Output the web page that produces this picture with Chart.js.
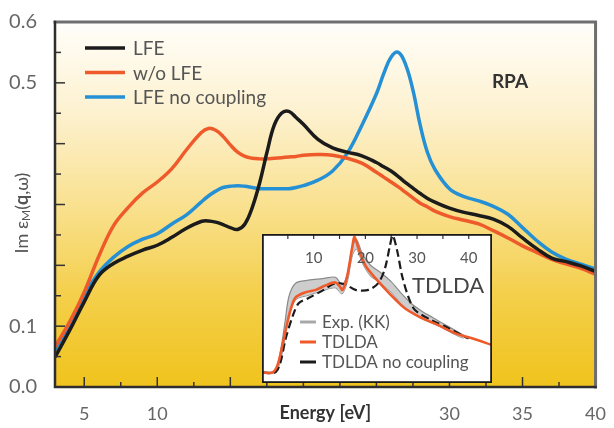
<!DOCTYPE html>
<html>
<head>
<meta charset="utf-8">
<script src="https://cdn.jsdelivr.net/npm/chart.js@4.4.1/dist/chart.umd.min.js"></script>
<style>
  html, body { margin: 0; padding: 0; background: #fff; }
  #wrap { position: relative; width: 614px; height: 428px; }
  #mainChart { position: absolute; left: 0; top: 0; }
  #insetChart { position: absolute; left: 262px; top: 234px; background: #fff; }
</style>
</head>
<body>
<div id="wrap">
  <canvas id="mainChart" width="614" height="428"></canvas>
  <canvas id="insetChart" width="230" height="149"></canvas>
</div>
<script>
// #### Data (RPA spectra)
const energy = [3, 4, 5, 6, 7, 8, 9, 10, 11, 12, 13, 13.5, 14, 14.5, 15, 15.5, 16, 16.5, 17, 17.5,
  18, 18.5, 19, 19.5, 20, 21, 22, 23, 24, 25, 25.5, 26, 26.5, 27, 27.5, 28, 28.5, 29, 30, 31,
  32, 33, 34, 35, 36, 37, 38, 39, 40];
const lfe = [0.049, 0.093, 0.140, 0.183, 0.203, 0.215, 0.225, 0.233, 0.246, 0.261, 0.272, 0.273, 0.271, 0.267, 0.262, 0.259,
  0.268, 0.295, 0.335, 0.385, 0.430, 0.450, 0.453, 0.443, 0.432, 0.407, 0.393, 0.386, 0.380, 0.369, 0.362, 0.355, 0.346,
  0.336, 0.327, 0.318, 0.310, 0.304, 0.294, 0.287, 0.282, 0.276, 0.264, 0.245, 0.227, 0.212, 0.206, 0.199, 0.190];
const woLfe = [0.066, 0.107, 0.156, 0.215, 0.265, 0.295, 0.319, 0.337, 0.359, 0.390, 0.418, 0.425, 0.422, 0.412, 0.398, 0.386,
  0.379, 0.376, 0.375, 0.375, 0.376, 0.377, 0.378, 0.379, 0.381, 0.382, 0.381, 0.376, 0.368, 0.353, 0.345, 0.337, 0.329,
  0.320, 0.311, 0.302, 0.296, 0.289, 0.280, 0.274, 0.268, 0.257, 0.245, 0.232, 0.221, 0.210, 0.202, 0.195, 0.185];
const lfeNoCoupling = [0.061, 0.103, 0.150, 0.188, 0.213, 0.231, 0.243, 0.252, 0.268, 0.283, 0.304, 0.314, 0.322, 0.328, 0.330, 0.331,
  0.330, 0.328, 0.326, 0.326, 0.326, 0.326, 0.326, 0.328, 0.331, 0.340, 0.355, 0.384, 0.430, 0.482, 0.515, 0.542, 0.550,
  0.530, 0.488, 0.430, 0.385, 0.358, 0.326, 0.313, 0.306, 0.297, 0.284, 0.262, 0.240, 0.222, 0.210, 0.202, 0.194];
const seriesLabels = ['LFE', 'w/o LFE', 'LFE no coupling'];
const seriesColors = ['#1b1b1b', '#ef5a2b', '#2690d4'];

const xTicks = [5, 7.5, 10, 12.5, 15, 17.5, 20, 22.5, 25, 27.5, 30, 32.5, 35, 37.5, 40];
const xTickLabels = ['5', '10', '30', '35', '40'];
const yTicks = [0, 0.05, 0.1, 0.15, 0.2, 0.25, 0.3, 0.35, 0.4, 0.45, 0.5, 0.55, 0.6];
const yTickLabels = ['0.0', '0.1', '0.5', '0.6'];

// #### Data (TDLDA inset)
const kkEnergy = [0, 2.5, 3.5, 4.5, 5.2, 6.5, 9, 11.7, 14.2, 15.5, 16.5, 17.5, 18.3, 19.5, 21, 23, 25, 27, 29, 31, 33, 35, 37, 39];
const kkUpper = [0.075, 0.08, 0.20, 0.42, 0.58, 0.67, 0.69, 0.70, 0.71, 0.66, 0.73, 0.92, 0.96, 0.86, 0.79, 0.74, 0.68, 0.60, 0.53, 0.48, 0.44, 0.40, 0.36, 0.32];
const kkLower = [0.065, 0.07, 0.14, 0.32, 0.45, 0.56, 0.59, 0.62, 0.64, 0.60, 0.68, 0.86, 0.90, 0.80, 0.72, 0.67, 0.61, 0.53, 0.47, 0.43, 0.40, 0.37, 0.33, 0.30];
const tdEnergy = [0, 2, 3, 4, 5, 5.6, 6.5, 8.5, 10.4, 12.3, 14.2, 15, 15.6, 16.5, 17.5, 17.9, 18.7, 20, 21.9, 24.4, 27.7, 31, 34, 37.3, 40.6, 44.5];
const tdlda = [0.07, 0.07, 0.12, 0.26, 0.42, 0.50, 0.575, 0.61, 0.625, 0.655, 0.675, 0.65, 0.625, 0.72, 0.92, 0.98, 0.90, 0.79, 0.705, 0.61, 0.50, 0.435, 0.39, 0.335, 0.30, 0.255];
const ncEnergy = [0, 2.5, 3.5, 4.6, 6, 7.1, 9, 11.7, 14.2, 16.2, 18.1, 20.6, 22.5, 23.8, 24.8, 25.3, 26.2, 27.1, 28.3, 29.6, 32.9, 36, 39.2, 40];
const tdNoCoupling = [0.07, 0.07, 0.13, 0.30, 0.455, 0.535, 0.57, 0.62, 0.67, 0.66, 0.625, 0.625, 0.67, 0.77, 0.93, 0.99, 0.88, 0.72, 0.58, 0.49, 0.42, 0.37, 0.31, 0.30];
const insetLabels = ['Exp. (KK)', 'TDLDA', 'TDLDA no coupling'];
const insetTicks = [5, 10, 15, 20, 25, 30, 35, 40];
const insetTickLabels = ['10', '20', '30', '40'];

const FONT = 'Lato, "Open Sans", sans-serif';
const points = (xs, ys) => xs.map((x, i) => ({ x: x, y: ys[i] }));

// #### Main chart decorations
const rpaFrame = {
    id: 'rpaFrame',
    beforeDatasetsDraw(chart) {
        const { ctx, chartArea: a } = chart;
        const g = ctx.createLinearGradient(0, a.top, 0, a.bottom);
        g.addColorStop(0, '#fffefa');
        g.addColorStop(0.25, '#fdf1cf');
        g.addColorStop(0.5, '#f9e190');
        g.addColorStop(0.75, '#f4cf4a');
        g.addColorStop(1, '#f0c31c');
        ctx.save();
        ctx.fillStyle = g;
        ctx.fillRect(a.left, a.top, a.right - a.left, a.bottom - a.top);
        ctx.restore();
    },
    afterDatasetsDraw(chart) {
        const { ctx, chartArea: a, scales } = chart;
        ctx.save();

        // inward tick marks
        ctx.strokeStyle = '#333';
        ctx.lineWidth = 1.5;
        xTicks.forEach(v => {
            const px = scales.x.getPixelForValue(v);
            const len = v % 5 === 0 ? 10 : 5;
            ctx.beginPath();
            ctx.moveTo(px, a.bottom);
            ctx.lineTo(px, a.bottom - len);
            ctx.stroke();
        });
        yTicks.forEach(v => {
            const py = scales.y.getPixelForValue(v);
            const len = Math.round(v * 100) % 10 === 0 ? 10 : 6;
            ctx.beginPath();
            ctx.moveTo(a.left, py);
            ctx.lineTo(a.left + len, py);
            ctx.stroke();
        });

        // frame
        ctx.lineCap = 'square';
        ctx.strokeStyle = '#6e6e6e';
        ctx.lineWidth = 3;
        ctx.beginPath();
        ctx.moveTo(a.left, a.top);
        ctx.lineTo(a.right, a.top);
        ctx.lineTo(a.right, a.bottom);
        ctx.stroke();
        ctx.strokeStyle = '#2e2e2e';
        ctx.lineWidth = 2.5;
        ctx.beginPath();
        ctx.moveTo(a.left, a.top);
        ctx.lineTo(a.left, a.bottom);
        ctx.lineTo(a.right, a.bottom);
        ctx.stroke();

        // legend
        ctx.lineCap = 'butt';
        ctx.font = '19px ' + FONT;
        ctx.textBaseline = 'middle';
        chart.data.datasets.forEach((ds, i) => {
            const y = 48 + i * 24.5;
            ctx.strokeStyle = ds.borderColor;
            ctx.lineWidth = 3.5;
            ctx.beginPath();
            ctx.moveTo(85, y);
            ctx.lineTo(125, y);
            ctx.stroke();
            ctx.fillStyle = '#555';
            ctx.fillText(ds.label, 133, y + 1);
        });

        // panel label
        ctx.font = 'bold 19px ' + FONT;
        ctx.fillStyle = '#333';
        ctx.textAlign = 'center';
        ctx.fillText('RPA', 510, 82);

        // y-axis title with subscript and bold q
        const parts = [
            { t: 'Im ε', f: '18px ' + FONT, dy: 0 },
            { t: 'M', f: '12px ' + FONT, dy: 4 },
            { t: '(', f: '18px ' + FONT, dy: 0 },
            { t: 'q', f: 'bold 18px ' + FONT, dy: 0 },
            { t: ',ω)', f: '18px ' + FONT, dy: 0 }
        ];
        let total = 0;
        parts.forEach(p => { ctx.font = p.f; p.w = ctx.measureText(p.t).width; total += p.w; });
        ctx.translate(22, 213);
        ctx.rotate(-Math.PI / 2);
        ctx.textAlign = 'left';
        ctx.fillStyle = '#555';
        let x = -total / 2;
        parts.forEach(p => {
            ctx.font = p.f;
            ctx.fillText(p.t, x, p.dy);
            x += p.w;
        });
        ctx.restore();
    }
};

const mainData = [lfe, woLfe, lfeNoCoupling];

new Chart(document.getElementById('mainChart'), {
    type: 'line',
    data: {
        datasets: mainData.map((ys, i) => ({
            label: seriesLabels[i],
            data: points(energy, ys),
            borderColor: seriesColors[i],
            borderWidth: 3.5,
            fill: false
        }))
    },
    options: {
        responsive: false,
        animation: false,
        layout: { padding: { left: 0, top: 21, right: 14, bottom: 0 } },
        elements: {
            point: { radius: 0 },
            line: { tension: 0.4 }
        },
        plugins: { legend: { display: false }, tooltip: { enabled: false } },
        scales: {
            x: {
                type: 'linear',
                min: 3,
                max: 40,
                afterBuildTicks: s => { s.ticks = xTicks.map(v => ({ value: v })); },
                afterFit: s => { s.height = 41; },
                grid: { display: false },
                border: { display: false },
                ticks: {
                    padding: 8,
                    color: '#666',
                    font: { family: FONT, size: 18 },
                    maxRotation: 0,
                    autoSkip: false,
                    callback: v => xTickLabels.includes(String(v)) ? String(v) : ''
                },
                title: {
                    display: true,
                    text: 'Energy [eV]',
                    color: '#333',
                    font: { family: FONT, size: 18, weight: 'bold' },
                    padding: { top: 0, bottom: 4 }
                }
            },
            y: {
                min: 0,
                max: 0.6,
                afterBuildTicks: s => { s.ticks = yTicks.map(v => ({ value: v })); },
                afterFit: s => { s.width = 55; },
                grid: { display: false },
                border: { display: false },
                ticks: {
                    padding: 10,
                    color: '#666',
                    font: { family: FONT, size: 20 },
                    autoSkip: false,
                    callback: v => {
                        const s = v.toFixed(1);
                        return yTickLabels.includes(s) && Math.abs(v * 10 - Math.round(v * 10)) < 1e-6 ? s : '';
                    }
                }
            }
        }
    },
    plugins: [rpaFrame]
});

// #### Inset decorations
const insetFrame = {
    id: 'insetFrame',
    afterDatasetsDraw(chart) {
        const { ctx, width, height, scales } = chart;
        ctx.save();
        ctx.strokeStyle = '#333';
        ctx.lineWidth = 1.2;
        insetTicks.forEach(v => {
            const px = scales.x.getPixelForValue(v);
            ctx.beginPath();
            ctx.moveTo(px, 0);
            ctx.lineTo(px, 5);
            ctx.stroke();
        });
        ctx.font = '15px ' + FONT;
        ctx.fillStyle = '#555';
        ctx.textAlign = 'center';
        ctx.textBaseline = 'middle';
        insetTickLabels.forEach(t => {
            ctx.fillText(t, scales.x.getPixelForValue(Number(t)), 24);
        });

        ctx.font = '22px ' + FONT;
        ctx.fillStyle = '#444';
        ctx.fillText('TDLDA', 186, 52);

        // legend
        const sampleColors = ['#a8a8a8', '#ef5a2b', '#1b1b1b'];
        ctx.textAlign = 'left';
        ctx.font = '17px ' + FONT;
        insetLabels.forEach((t, i) => {
            const y = 88 + i * 20;
            ctx.strokeStyle = sampleColors[i];
            ctx.lineWidth = 3;
            ctx.beginPath();
            ctx.moveTo(38, y);
            ctx.lineTo(54, y);
            ctx.stroke();
            ctx.fillStyle = '#555';
            ctx.fillText(t, 60, y + 1);
        });

        ctx.strokeStyle = '#1b1b1b';
        ctx.lineWidth = 1.8;
        ctx.strokeRect(0.9, 0.9, width - 1.8, height - 1.8);
        ctx.restore();
    }
};

new Chart(document.getElementById('insetChart'), {
    type: 'line',
    data: {
        datasets: [
            { label: insetLabels[1], data: points(tdEnergy, tdlda), borderColor: '#ef5a2b', borderWidth: 2.6, fill: false },
            { label: insetLabels[2], data: points(ncEnergy, tdNoCoupling), borderColor: '#1b1b1b', borderWidth: 2.2, borderDash: [8, 4], fill: false },
            { label: insetLabels[0], data: points(kkEnergy, kkUpper), borderColor: '#8a8a8a', borderWidth: 1.2, backgroundColor: '#cdcdcd', fill: '+1' },
            { label: insetLabels[0] + ' lower', data: points(kkEnergy, kkLower), borderColor: '#8a8a8a', borderWidth: 1.2, fill: false }
        ]
    },
    options: {
        responsive: false,
        animation: false,
        layout: { padding: 0 },
        elements: {
            point: { radius: 0 },
            line: { tension: 0.3 }
        },
        plugins: { legend: { display: false }, tooltip: { enabled: false } },
        scales: {
            x: { type: 'linear', display: false, min: 0, max: 44.5 },
            y: { display: false, min: 0, max: 1 }
        }
    },
    plugins: [insetFrame]
});
</script>
</body>
</html>
